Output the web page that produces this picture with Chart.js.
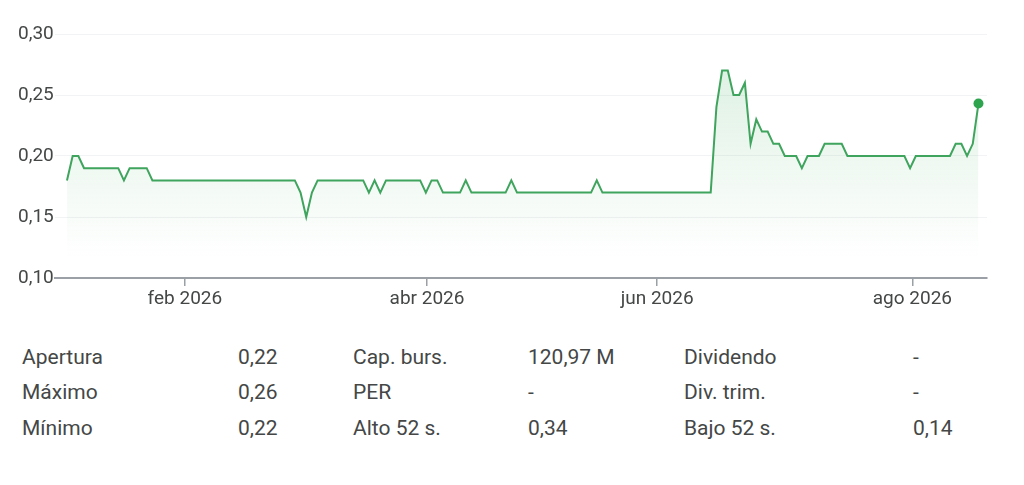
<!DOCTYPE html>
<html>
<head>
<meta charset="utf-8">
<script src="https://cdn.jsdelivr.net/npm/chart.js@4"></script>
<style>
  body { margin: 0; background: #fff; width: 1024px; height: 485px; overflow: hidden; font-family: Roboto, sans-serif; }
  #wrap { position: absolute; left: 0; top: 0; width: 1024px; height: 330px; }
  .cell { position: absolute; font-size: 21px; color: #444746; line-height: 24px; white-space: nowrap; }
</style>
</head>
<body>
<div id="wrap"><canvas id="priceChart"></canvas></div>
<div id="stats"></div>
<script>
// precio diario (sesiones), de ~2 ene a ~19 ago 2026
const prices = [
  0.18, 0.20, 0.20, 0.19, 0.19, 0.19, 0.19, 0.19, 0.19, 0.19,
  0.18, 0.19, 0.19, 0.19, 0.19, 0.18, 0.18, 0.18, 0.18, 0.18,
  0.18, 0.18, 0.18, 0.18, 0.18, 0.18, 0.18, 0.18, 0.18, 0.18,
  0.18, 0.18, 0.18, 0.18, 0.18, 0.18, 0.18, 0.18, 0.18, 0.18,
  0.18, 0.17, 0.15, 0.17, 0.18, 0.18, 0.18, 0.18, 0.18, 0.18,
  0.18, 0.18, 0.18, 0.17, 0.18, 0.17, 0.18, 0.18, 0.18, 0.18,
  0.18, 0.18, 0.18, 0.17, 0.18, 0.18, 0.17, 0.17, 0.17, 0.17,
  0.18, 0.17, 0.17, 0.17, 0.17, 0.17, 0.17, 0.17, 0.18, 0.17,
  0.17, 0.17, 0.17, 0.17, 0.17, 0.17, 0.17, 0.17, 0.17, 0.17,
  0.17, 0.17, 0.17, 0.18, 0.17, 0.17, 0.17, 0.17, 0.17, 0.17,
  0.17, 0.17, 0.17, 0.17, 0.17, 0.17, 0.17, 0.17, 0.17, 0.17,
  0.17, 0.17, 0.17, 0.17, 0.24, 0.27, 0.27, 0.25, 0.25, 0.26,
  0.21, 0.23, 0.22, 0.22, 0.21, 0.21, 0.20, 0.20, 0.20, 0.19,
  0.20, 0.20, 0.20, 0.21, 0.21, 0.21, 0.21, 0.20, 0.20, 0.20,
  0.20, 0.20, 0.20, 0.20, 0.20, 0.20, 0.20, 0.20, 0.19, 0.20,
  0.20, 0.20, 0.20, 0.20, 0.20, 0.20, 0.21, 0.21, 0.20, 0.21,
  0.243
];

// month ticks, as session index
const monthTickPos = [20.7, 63.2, 103.6, 148.4];
const monthTickLabels = ['feb 2026', 'abr 2026', 'jun 2026', 'ago 2026'];

const statLabels1 = ['Apertura', 'Máximo', 'Mínimo'];
const statValues1 = ['0,22', '0,26', '0,22'];
const statLabels2 = ['Cap. burs.', 'PER', 'Alto 52 s.'];
const statValues2 = ['120,97 M', '-', '0,34'];
const statLabels3 = ['Dividendo', 'Div. trim.', 'Bajo 52 s.'];
const statValues3 = ['-', '-', '0,14'];

const lineGreen = '#3fa45d';
const textGrey = '#444746';

// stats table
const cols = [
  { x: 22, items: statLabels1 }, { x: 238, items: statValues1 },
  { x: 353, items: statLabels2 }, { x: 528, items: statValues2 },
  { x: 684, items: statLabels3 }, { x: 913, items: statValues3 }
];
const rowY = [345, 380, 416];
const stats = document.getElementById('stats');
cols.forEach(c => {
  c.items.forEach((t, r) => {
    let d = document.createElement('div');
    d.className = 'cell';
    d.style.left = c.x + 'px';
    d.style.top = rowY[r] + 'px';
    d.textContent = t;
    stats.appendChild(d);
  });
});

const points = prices.map((v, i) => ({ x: i, y: v }));
const lastIdx = prices.length - 1;

const ctx = document.getElementById('priceChart').getContext('2d');
new Chart(ctx, {
  type: 'line',
  data: {
    datasets: [{
      data: points,
      borderColor: lineGreen,
      borderWidth: 2,
      tension: 0,
      fill: 'start',
      backgroundColor: (c) => {
        const area = c.chart.chartArea;
        if (!area) return 'rgba(52,168,83,0.1)';
        const g = c.chart.ctx.createLinearGradient(0, area.top + 30, 0, area.bottom - 20);
        g.addColorStop(0, 'rgba(52,168,83,0.16)');
        g.addColorStop(1, 'rgba(52,168,83,0)');
        return g;
      },
      pointRadius: (c) => c.dataIndex === lastIdx ? 5 : 0,
      pointHoverRadius: 0,
      pointBackgroundColor: '#2ea44f',
      pointBorderWidth: 0
    }]
  },
  options: {
    responsive: true,
    maintainAspectRatio: false,
    animation: false,
    layout: { autoPadding: false, padding: { left: 18, right: 37, top: 34, bottom: 10 } },
    plugins: { legend: { display: false }, tooltip: { enabled: false } },
    scales: {
      x: {
        type: 'linear',
        min: -2.1,
        max: 161.5,
        afterBuildTicks: (scale) => { scale.ticks = monthTickPos.map(v => ({ value: v })); },
        afterFit: (scale) => { scale.height = 42; },
        grid: { drawOnChartArea: false, drawTicks: true, tickLength: 8, color: '#9aa0a6', lineWidth: 1.5 },
        border: { color: '#9aa0a6', width: 2 },
        ticks: {
          autoSkip: false,
          maxRotation: 0,
          padding: 2,
          color: textGrey,
          font: { family: 'Roboto', size: 19 },
          callback: (v, i) => monthTickLabels[i]
        }
      },
      y: {
        min: 0.10,
        max: 0.30,
        afterFit: (scale) => { scale.width = 37; },
        border: { display: false },
        grid: {
          drawTicks: false,
          color: (c) => Math.abs(c.tick.value - 0.10) < 1e-6 ? 'rgba(0,0,0,0)' : '#f1f3f4'
        },
        ticks: {
          stepSize: 0.05,
          crossAlign: 'far',
          color: textGrey,
          font: { family: 'Roboto', size: 19 },
          callback: (v) => v.toFixed(2).replace('.', ',')
        }
      }
    }
  }
});
</script>
</body>
</html>
